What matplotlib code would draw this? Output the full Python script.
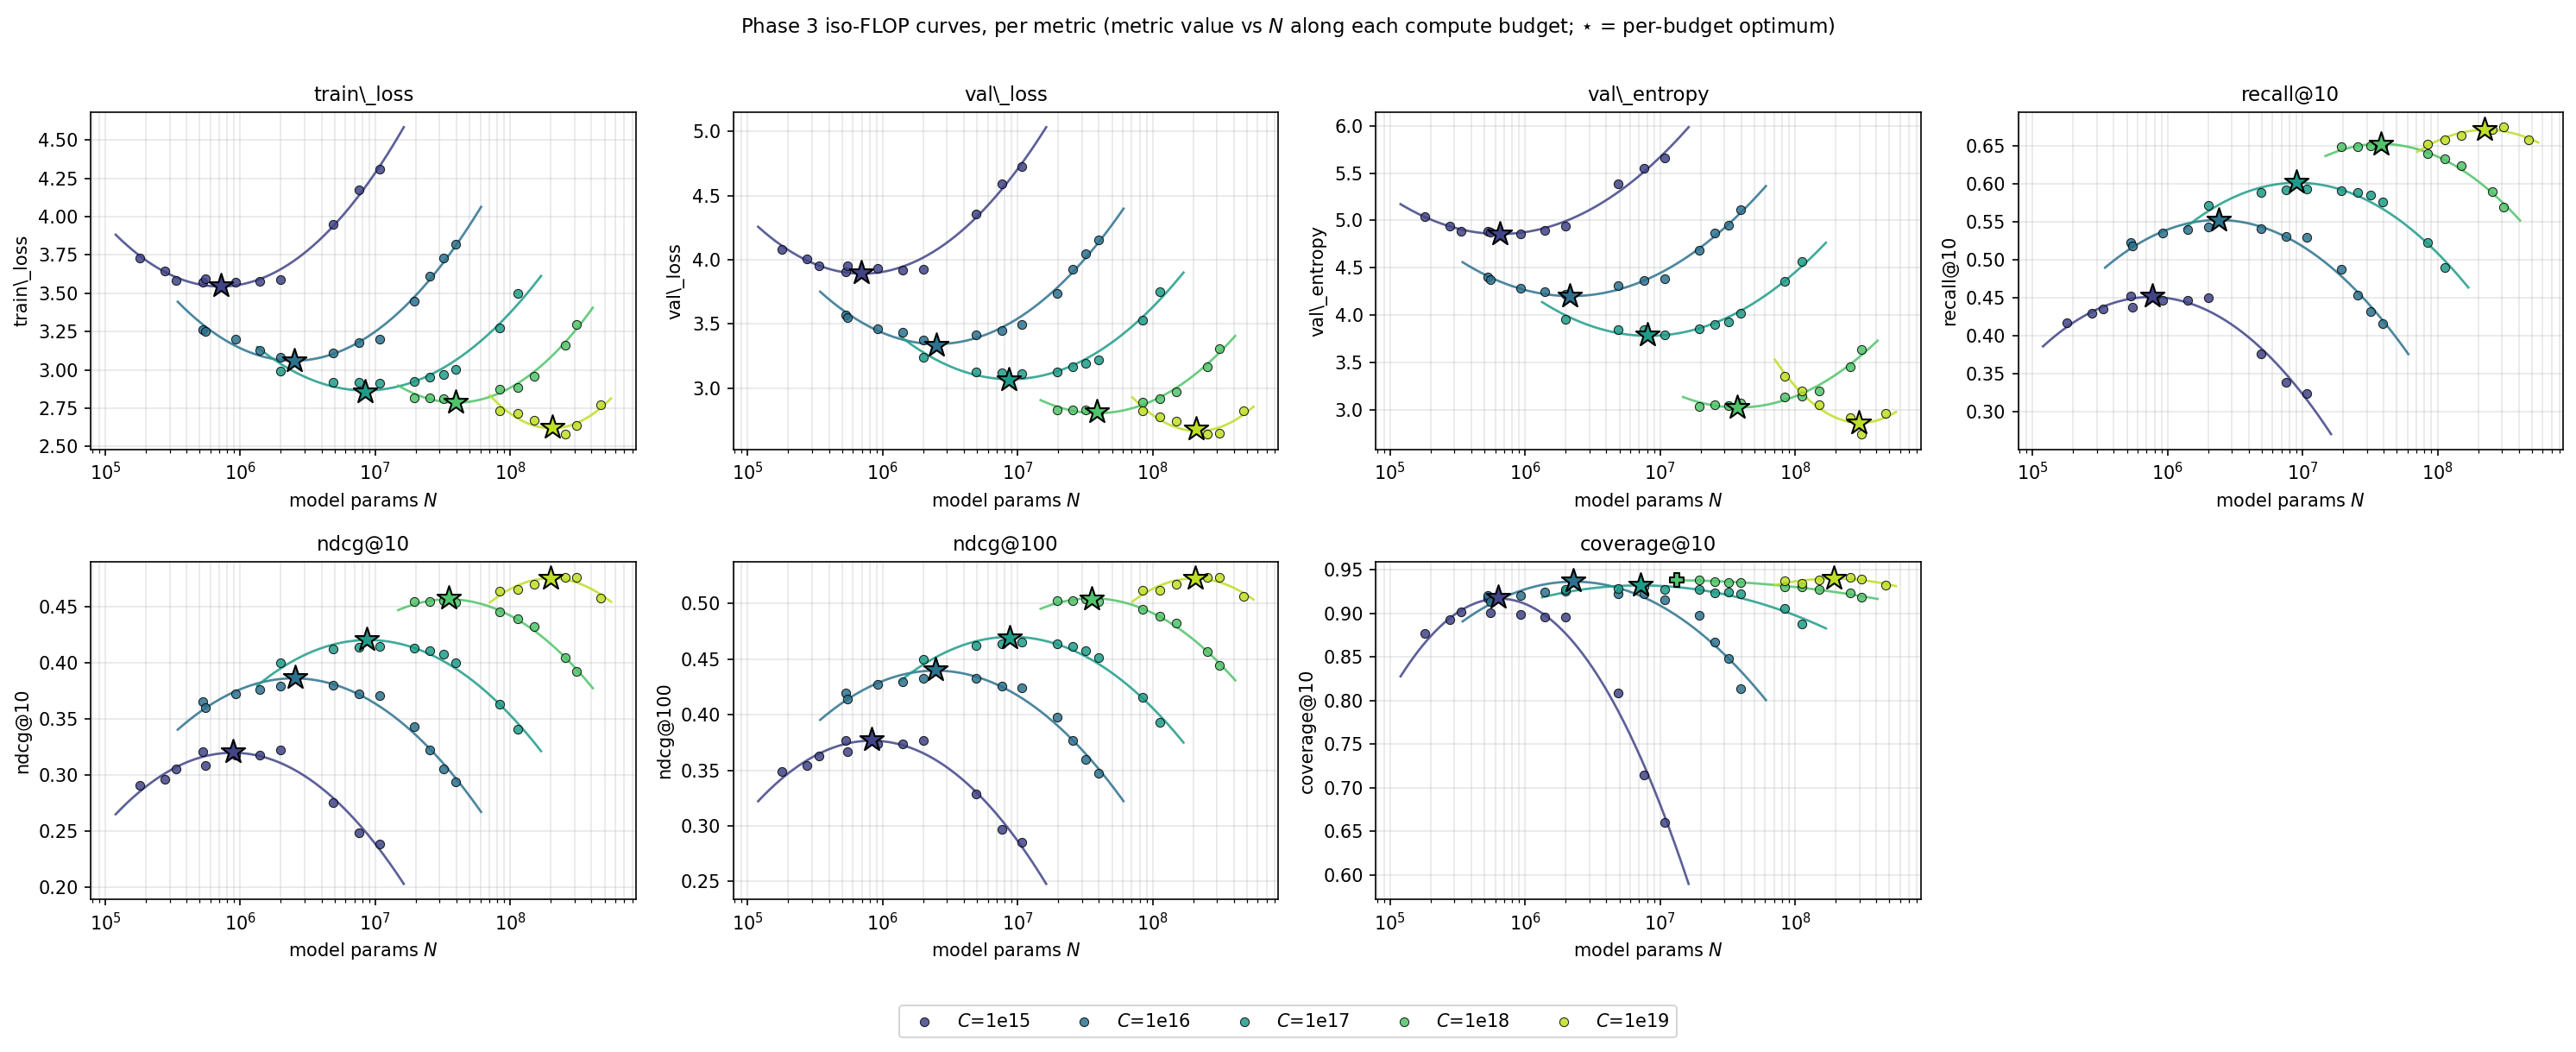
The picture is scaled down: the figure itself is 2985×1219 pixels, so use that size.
import numpy as np
import matplotlib
matplotlib.use('Agg')
import matplotlib.pyplot as plt
from matplotlib.ticker import MaxNLocator

# compute budgets and the model sizes N probed for each one
budgets = ['1e15', '1e16', '1e17', '1e18', '1e19']
N_1e15 = [1.8e5, 2.75e5, 3.35e5, 5.3e5, 5.5e5, 9.2e5, 1.4e6, 2.0e6, 4.9e6, 7.6e6, 1.08e7]
N_1e16 = [5.3e5, 5.5e5, 9.2e5, 1.4e6, 2.0e6, 4.9e6, 7.6e6, 1.08e7, 1.95e7, 2.55e7, 3.2e7, 3.95e7]
N_1e17 = [2.0e6, 4.9e6, 7.6e6, 1.08e7, 1.95e7, 2.55e7, 3.2e7, 3.95e7, 8.4e7, 1.13e8]
N_1e18 = [1.95e7, 2.55e7, 3.2e7, 3.95e7, 8.4e7, 1.13e8, 1.5e8, 2.55e8, 3.1e8]
N_1e19 = [8.4e7, 1.13e8, 1.5e8, 2.55e8, 3.1e8, 4.7e8]
N_grid = [N_1e15, N_1e16, N_1e17, N_1e18, N_1e19]

metrics = ['train\\_loss', 'val\\_loss', 'val\\_entropy', 'recall@10',
           'ndcg@10', 'ndcg@100', 'coverage@10']

# metric values, one list per budget (same order as N_grid)
train_loss = [
    [3.727, 3.647, 3.585, 3.57, 3.595, 3.57, 3.58, 3.59, 3.95, 4.176, 4.31],
    [3.265, 3.252, 3.203, 3.13, 3.085, 3.11, 3.178, 3.198, 3.45, 3.609, 3.727, 3.822],
    [2.994, 2.92, 2.92, 2.911, 2.926, 2.95, 2.969, 3.004, 3.275, 3.496],
    [2.816, 2.82, 2.81, 2.80, 2.872, 2.888, 2.961, 3.163, 3.298],
    [2.736, 2.719, 2.674, 2.581, 2.64, 2.775],
]
val_loss = [
    [4.079, 4.005, 3.953, 3.905, 3.953, 3.935, 3.916, 3.928, 4.36, 4.591, 4.726],
    [3.567, 3.551, 3.463, 3.435, 3.377, 3.412, 3.447, 3.493, 3.735, 3.923, 4.044, 4.153],
    [3.237, 3.126, 3.121, 3.109, 3.126, 3.167, 3.191, 3.219, 3.528, 3.753],
    [2.83, 2.83, 2.83, 2.81, 2.888, 2.919, 2.967, 3.167, 3.307],
    [2.819, 2.777, 2.744, 2.64, 2.647, 2.823],
]
val_entropy = [
    [5.045, 4.938, 4.885, 4.89, 4.88, 4.863, 4.894, 4.938, 5.384, 5.548, 5.658],
    [4.404, 4.379, 4.285, 4.253, 4.22, 4.31, 4.366, 4.382, 4.684, 4.866, 4.948, 5.111],
    [3.958, 3.845, 3.845, 3.795, 3.86, 3.901, 3.933, 4.02, 4.354, 4.564],
    [3.037, 3.059, 3.044, 3.07, 3.141, 3.147, 3.20, 3.452, 3.634],
    [3.352, 3.20, 3.053, 2.921, 2.745, 2.968],
]
recall_10 = [
    [0.4175, 0.43, 0.436, 0.453, 0.438, 0.447, 0.447, 0.4505, 0.377, 0.3385, 0.324],
    [0.523, 0.5184, 0.5353, 0.54, 0.544, 0.541, 0.5314, 0.530, 0.4878, 0.4544, 0.4328, 0.4163],
    [0.5726, 0.589, 0.593, 0.5942, 0.5919, 0.589, 0.586, 0.5765, 0.5235, 0.4897],
    [0.6489, 0.649, 0.65, 0.651, 0.6398, 0.6331, 0.6245, 0.59, 0.5703],
    [0.6531, 0.659, 0.6645, 0.6716, 0.6751, 0.6579],
]
ndcg_10 = [
    [0.2908, 0.2963, 0.3053, 0.3205, 0.3086, 0.318, 0.3177, 0.3224, 0.2751, 0.2484, 0.2388],
    [0.365, 0.3598, 0.3722, 0.3763, 0.3793, 0.3801, 0.3722, 0.3705, 0.3433, 0.3224, 0.3053, 0.2935],
    [0.4002, 0.4126, 0.414, 0.4148, 0.4131, 0.4104, 0.4079, 0.4002, 0.3631, 0.3405],
    [0.4547, 0.4544, 0.455, 0.4539, 0.4456, 0.4393, 0.4324, 0.4043, 0.3925],
    [0.464, 0.4649, 0.4695, 0.4764, 0.4764, 0.4574],
]
ndcg_100 = [
    [0.3488, 0.3543, 0.3632, 0.3765, 0.3668, 0.3738, 0.3738, 0.3771, 0.3288, 0.2969, 0.2855],
    [0.4195, 0.414, 0.427, 0.4298, 0.4329, 0.4329, 0.4256, 0.4245, 0.3979, 0.3771, 0.3599, 0.3474],
    [0.4501, 0.4625, 0.4639, 0.465, 0.4634, 0.4612, 0.4578, 0.4514, 0.4159, 0.3932],
    [0.5028, 0.5022, 0.504, 0.502, 0.4945, 0.4889, 0.4825, 0.457, 0.4445],
    [0.5117, 0.5122, 0.5172, 0.5239, 0.5239, 0.5064],
]
coverage_10 = [
    [0.8768, 0.8928, 0.9017, 0.917, 0.901, 0.8983, 0.896, 0.8957, 0.8086, 0.714, 0.6604],
    [0.9205, 0.9133, 0.92, 0.924, 0.9258, 0.9223, 0.9223, 0.9157, 0.898, 0.8673, 0.848, 0.8139],
    [0.9276, 0.928, 0.93, 0.9273, 0.9273, 0.9233, 0.9247, 0.9223, 0.9057, 0.888],
    [0.9383, 0.9367, 0.9357, 0.935, 0.93, 0.9307, 0.9273, 0.9233, 0.918],
    [0.9373, 0.934, 0.9383, 0.9417, 0.939, 0.9323],
]
values = [train_loss, val_loss, val_entropy, recall_10, ndcg_10, ndcg_100, coverage_10]

# per-budget optimum (N, value) for each metric
opt_N = [
    [7.2e5, 2.5e6, 8.4e6, 3.95e7, 2.04e8],
    [6.9e5, 2.5e6, 8.55e6, 3.87e7, 2.1e8],
    [6.5e5, 2.15e6, 8.1e6, 3.7e7, 2.98e8],
    [7.7e5, 2.4e6, 9.0e6, 3.8e7, 2.23e8],
    [8.9e5, 2.54e6, 8.7e6, 3.5e7, 2.0e8],
    [8.3e5, 2.47e6, 8.7e6, 3.53e7, 2.06e8],
    [6.35e5, 2.28e6, 7.2e6, 1.32e7, 1.94e8],
]
opt_val = [
    [3.547, 3.062, 2.858, 2.79, 2.626],
    [3.90, 3.335, 3.067, 2.814, 2.679],
    [4.86, 4.206, 3.79, 3.028, 2.865],
    [0.4524, 0.553, 0.6029, 0.6527, 0.6716],
    [0.3205, 0.3865, 0.4208, 0.4572, 0.4756],
    [0.3774, 0.4403, 0.4695, 0.5042, 0.523],
    [0.918, 0.9376, 0.9323, 0.9383, 0.9407],
]
# 'P' = optimum sits at the edge of the fitted range
opt_marker = [['*'] * 5] * 6 + [['*', '*', '*', 'P', '*']]

colors = plt.cm.viridis(np.linspace(0.2, 0.9, 5))
plt.rcParams['font.size'] = 10

fig, axes = plt.subplots(2, 4, figsize=(2985 / 150, 1219 / 150), dpi=150)
fig.subplots_adjust(left=0.0353, right=0.995, top=0.8937, bottom=0.1452, wspace=0.179, hspace=0.332)
axes = axes.ravel()

for m, name in enumerate(metrics):
    ax = axes[m]
    for b in range(5):
        N = np.array(N_grid[b])
        y = np.array(values[m][b])
        lx = np.log10(N)
        coef = np.polyfit(lx, y, 2)
        span = lx.max() - lx.min()
        xs = np.linspace(lx.min() - 0.1 * span, lx.max() + 0.1 * span, 200)
        ax.plot(10 ** xs, np.polyval(coef, xs), color=colors[b], lw=1.3, alpha=0.85, zorder=2)
        ax.scatter(N, y, s=24, color=colors[b], edgecolor='k', linewidth=0.5, alpha=0.85,
                   zorder=3, label='$C$=' + budgets[b])
        mk = opt_marker[m][b]
        ax.scatter([opt_N[m][b]], [opt_val[m][b]], marker=mk, s=190 if mk == '*' else 60,
                   color=colors[b], edgecolor='k', linewidth=1.0, zorder=5)
    ax.set_xscale('log')
    ax.yaxis.set_major_locator(MaxNLocator(nbins=9, steps=[1, 2, 2.5, 5, 10]))
    ax.set_title(name, fontsize=11)
    ax.set_ylabel(name)
    ax.set_xlabel('model params $N$')
    ax.grid(True, which='both', alpha=0.3)

axes[7].axis('off')

handles, labels = axes[0].get_legend_handles_labels()
fig.legend(handles, labels, loc='lower center', ncol=5, bbox_to_anchor=(0.5, 0.0055))
fig.suptitle('Phase 3 iso-FLOP curves, per metric (metric value vs $N$ along each compute budget; '
             '$\\star$ = per-budget optimum)', fontsize=11, y=0.985)

fig.savefig('out.png', dpi=150)
